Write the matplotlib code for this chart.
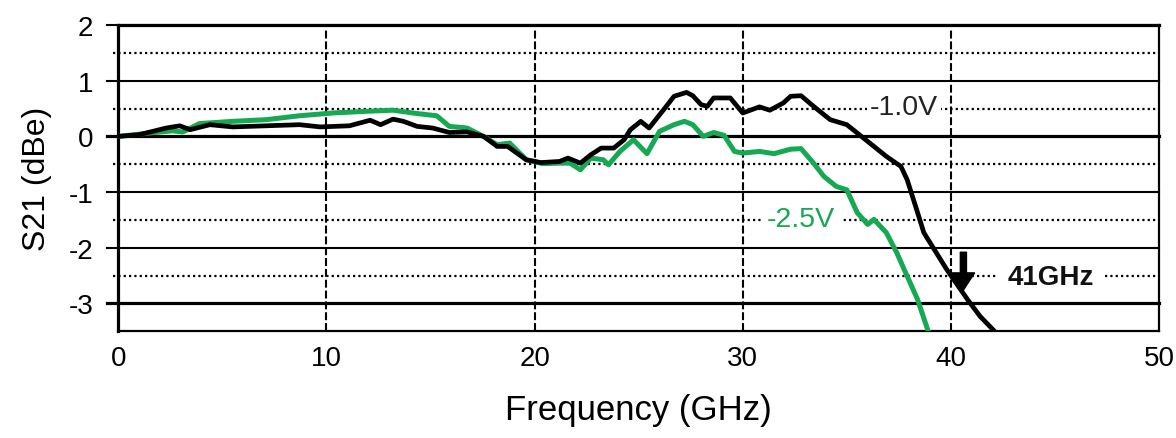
import matplotlib.pyplot as plt

plt.rcParams['font.family'] = ['Liberation Sans', 'DejaVu Sans']
plt.rcParams['axes.unicode_minus'] = False

# S21 response, -1.0V bias (frequency in GHz, S21 in dBe)
f_1v0 = [0, 1.0, 2.3, 2.95, 3.45, 4.4, 5.5, 7.1, 8.7, 9.7, 11.1, 12.1, 12.6, 13.2,
         13.7, 14.35, 15.1, 15.9, 16.75, 17.55, 18.2, 18.7, 19.6, 20.3, 21.2, 21.6,
         22.2, 22.7, 23.2, 23.8, 24.3, 24.6, 25.1, 25.5, 26.2, 26.7, 27.3, 27.6, 28.0,
         28.3, 28.6, 29.4, 30.0, 30.8, 31.3, 31.95, 32.3, 32.8, 33.4, 34.2, 35.0, 35.7,
         36.3, 36.9, 37.6, 37.9, 38.4, 38.7, 39.2, 39.8, 40.8, 41.4, 42.1]
s21_1v0 = [0, 0.03, 0.15, 0.19, 0.12, 0.21, 0.17, 0.19, 0.21, 0.17, 0.19, 0.29, 0.21, 0.31,
           0.27, 0.18, 0.15, 0.07, 0.08, 0.0, -0.18, -0.18, -0.42, -0.47, -0.45, -0.39,
           -0.48, -0.33, -0.21, -0.21, -0.06, 0.12, 0.27, 0.15, 0.48, 0.72, 0.79, 0.73, 0.57,
           0.54, 0.69, 0.69, 0.42, 0.53, 0.47, 0.6, 0.72, 0.73, 0.54, 0.3, 0.21, 0.0,
           -0.18, -0.36, -0.54, -0.78, -1.37, -1.73, -2.03, -2.39, -2.93, -3.23, -3.5]

# S21 response, -2.5V bias
f_2v5 = [0, 1.5, 2.6, 3.1, 3.9, 5.5, 7.1, 8.7, 10.3, 11.9, 13.2, 14.35, 15.3, 15.9,
         16.75, 17.55, 18.2, 18.8, 19.6, 20.4, 21.2, 21.7, 22.2, 22.7, 23.3, 23.55, 24.1,
         24.75, 25.4, 26.0, 26.7, 27.2, 27.6, 28.1, 28.6, 29.1, 29.6, 30.0, 30.8, 31.5,
         32.3, 32.8, 33.4, 33.9, 34.5, 35.0, 35.5, 36.0, 36.3, 36.9, 37.4, 37.9, 38.4, 38.9]
s21_2v5 = [0, 0.06, 0.1, 0.08, 0.23, 0.27, 0.3, 0.37, 0.42, 0.45, 0.47, 0.41, 0.37, 0.18,
           0.15, 0.0, -0.15, -0.12, -0.42, -0.49, -0.48, -0.48, -0.6, -0.39, -0.42, -0.51, -0.27,
           -0.06, -0.31, 0.09, 0.21, 0.27, 0.21, 0.0, 0.07, 0.02, -0.27, -0.3, -0.27, -0.31,
           -0.23, -0.22, -0.48, -0.72, -0.9, -0.96, -1.37, -1.58, -1.49, -1.73, -2.09, -2.51, -2.93, -3.49]

x_ticks = [0, 10, 20, 30, 40, 50]
y_ticks = [-3, -2, -1, 0, 1, 2]
y_half = [1.5, 0.5, -0.5, -1.5, -2.5]

green = '#17a853'

fig = plt.figure(figsize=(11.76, 4.39), dpi=100)
ax = fig.add_axes([0.1006, 0.243, 0.885, 0.6978])

# grid
for y in y_ticks:
    lw = 2.3 if y in (0, -3) else 1.5
    ax.axhline(y, xmin=-0.0105, xmax=1, color='black', lw=lw, clip_on=False, zorder=1)
for y in y_half:
    ax.axhline(y, xmin=-0.005, xmax=1, color='black', lw=1.6, clip_on=False,
               linestyle=(0, (1, 1.4)), zorder=1)
for x in [10, 20, 30, 40]:
    ax.axvline(x, ymax=0.985, color='black', lw=1.5, linestyle=(0, (3.8, 1.4)), zorder=1)

ax.plot(f_2v5, s21_2v5, color=green, lw=3.6, zorder=3, solid_joinstyle='round')
ax.plot(f_1v0, s21_1v0, color='black', lw=3.4, zorder=4, solid_joinstyle='round')

ax.text(37.75, 0.53, '-1.0V', fontsize=20.5, ha='center', va='center', color='#222222', zorder=2,
        bbox=dict(facecolor='white', edgecolor='none', pad=2))
ax.text(32.8, -1.48, '-2.5V', fontsize=20.5, ha='center', va='center', color=green, zorder=2,
        bbox=dict(facecolor='white', edgecolor='none', pad=4))
ax.text(44.8, -2.52, '41GHz', fontsize=20, fontweight='bold', ha='center', va='center',
        color='#111111', zorder=2, bbox=dict(facecolor='white', edgecolor='none', pad=8))
ax.annotate('', xy=(40.6, -2.76), xytext=(40.6, -2.08),
            arrowprops=dict(arrowstyle='simple,head_length=0.62,head_width=0.8,tail_width=0.22',
                            fc='black', ec='black', mutation_scale=20, shrinkA=0, shrinkB=0),
            zorder=5)

ax.set_xlim(0, 50)
ax.set_ylim(-3.5, 2)
ax.set_xticks(x_ticks)
ax.set_yticks(y_ticks)
ax.tick_params(axis='both', length=0, labelsize=20)
ax.tick_params(axis='x', pad=10)
ax.tick_params(axis='y', pad=18)

for side in ['left', 'top']:
    ax.spines[side].set_linewidth(2.3)
for side in ['right', 'bottom']:
    ax.spines[side].set_linewidth(1.6)

ax.set_xlabel('Frequency (GHz)', fontsize=25, labelpad=16)
ax.set_ylabel('S21 (dBe)', fontsize=23, labelpad=12)

fig.savefig('out.png', dpi=100)
